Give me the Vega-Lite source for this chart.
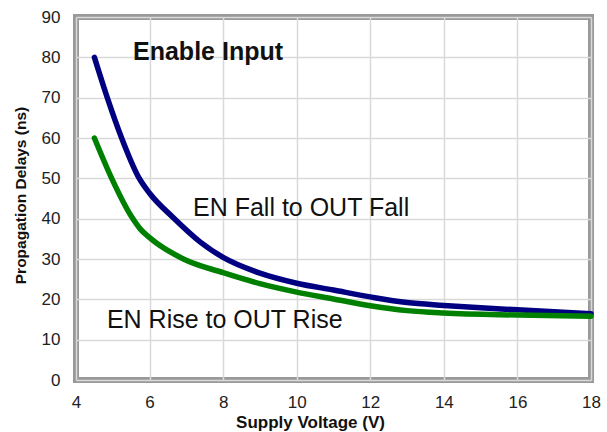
{
  "$schema": "https://vega.github.io/schema/vega-lite/v6.json",
  "autosize": "none",
  "width": 515,
  "height": 363,
  "padding": {"left": 76, "top": 17, "right": 16, "bottom": 52},
  "background": "white",
  "config": {
    "font": "Liberation Sans",
    "view": {"stroke": "#999999", "strokeWidth": 6},
    "axis": {
      "labelFont": "Liberation Sans",
      "titleFont": "Liberation Sans",
      "labelFontSize": 17,
      "labelColor": "#222222",
      "titleColor": "#111111",
      "titleFontWeight": "bold",
      "titleFontSize": 15,
      "tickSize": 0,
      "domain": false,
      "labelFlush": false,
      "gridColor": "#d9d9d9",
      "gridWidth": 1.5
    }
  },
  "datasets": {
    "curves": [
      {"v": 4.5, "d": 80, "s": "EN Fall to OUT Fall"},
      {"v": 4.85, "d": 70, "s": "EN Fall to OUT Fall"},
      {"v": 5.24, "d": 60, "s": "EN Fall to OUT Fall"},
      {"v": 5.7, "d": 50.3, "s": "EN Fall to OUT Fall"},
      {"v": 6, "d": 46.3, "s": "EN Fall to OUT Fall"},
      {"v": 6.64, "d": 40.3, "s": "EN Fall to OUT Fall"},
      {"v": 7.38, "d": 34.2, "s": "EN Fall to OUT Fall"},
      {"v": 8, "d": 30.4, "s": "EN Fall to OUT Fall"},
      {"v": 9, "d": 26.5, "s": "EN Fall to OUT Fall"},
      {"v": 10, "d": 24, "s": "EN Fall to OUT Fall"},
      {"v": 11, "d": 22.3, "s": "EN Fall to OUT Fall"},
      {"v": 12, "d": 20.6, "s": "EN Fall to OUT Fall"},
      {"v": 13, "d": 19.2, "s": "EN Fall to OUT Fall"},
      {"v": 14, "d": 18.5, "s": "EN Fall to OUT Fall"},
      {"v": 15, "d": 17.9, "s": "EN Fall to OUT Fall"},
      {"v": 16, "d": 17.4, "s": "EN Fall to OUT Fall"},
      {"v": 17, "d": 16.9, "s": "EN Fall to OUT Fall"},
      {"v": 18, "d": 16.4, "s": "EN Fall to OUT Fall"},
      {"v": 4.5, "d": 60, "s": "EN Rise to OUT Rise"},
      {"v": 4.97, "d": 50, "s": "EN Rise to OUT Rise"},
      {"v": 5.53, "d": 40.2, "s": "EN Rise to OUT Rise"},
      {"v": 5.75, "d": 37.4, "s": "EN Rise to OUT Rise"},
      {"v": 6, "d": 35.3, "s": "EN Rise to OUT Rise"},
      {"v": 6.92, "d": 30, "s": "EN Rise to OUT Rise"},
      {"v": 8, "d": 26.6, "s": "EN Rise to OUT Rise"},
      {"v": 9, "d": 23.9, "s": "EN Rise to OUT Rise"},
      {"v": 10, "d": 21.8, "s": "EN Rise to OUT Rise"},
      {"v": 11, "d": 20.1, "s": "EN Rise to OUT Rise"},
      {"v": 12, "d": 18.4, "s": "EN Rise to OUT Rise"},
      {"v": 13, "d": 17.2, "s": "EN Rise to OUT Rise"},
      {"v": 14, "d": 16.6, "s": "EN Rise to OUT Rise"},
      {"v": 16, "d": 16.1, "s": "EN Rise to OUT Rise"},
      {"v": 18, "d": 15.8, "s": "EN Rise to OUT Rise"}
    ],
    "titleLabel": [{"v": 5.55, "d": 81.4, "t": "Enable Input"}],
    "curveLabels": [
      {"v": 7.18, "d": 42.7, "t": "EN Fall to OUT Fall"},
      {"v": 4.84, "d": 14.9, "t": "EN Rise to OUT Rise"}
    ]
  },
  "layer": [
    {
      "data": {"name": "curves"},
      "mark": {"type": "line", "interpolate": "monotone", "strokeWidth": 5.5, "strokeCap": "round"},
      "encoding": {
        "x": {
          "field": "v", "type": "quantitative",
          "scale": {"domain": [4, 18], "nice": false, "zero": false},
          "axis": {"values": [4, 6, 8, 10, 12, 14, 16, 18], "title": "Supply Voltage (V)", "labelPadding": 14, "titlePadding": 4, "titleFontSize": 17, "titleX": 234, "titleAlign": "center"}
        },
        "y": {
          "field": "d", "type": "quantitative",
          "scale": {"domain": [0, 90], "nice": false},
          "axis": {"values": [0, 10, 20, 30, 40, 50, 60, 70, 80, 90], "title": "Propagation Delays (ns)", "labelPadding": 16, "titlePadding": 13, "titleFontSize": 15.5, "titleY": 178}
        },
        "color": {
          "field": "s", "type": "nominal",
          "scale": {"domain": ["EN Fall to OUT Fall", "EN Rise to OUT Rise"], "range": ["#000080", "#008000"]},
          "legend": null
        }
      }
    },
    {
      "data": {"name": "titleLabel"},
      "mark": {"type": "text", "align": "left", "baseline": "middle", "fontSize": 25, "fontWeight": "bold", "color": "#111111", "font": "Liberation Sans"},
      "encoding": {
        "x": {"field": "v", "type": "quantitative"},
        "y": {"field": "d", "type": "quantitative"},
        "text": {"field": "t"}
      }
    },
    {
      "data": {"name": "curveLabels"},
      "mark": {"type": "text", "align": "left", "baseline": "middle", "fontSize": 25, "color": "#111111", "font": "Liberation Sans"},
      "encoding": {
        "x": {"field": "v", "type": "quantitative"},
        "y": {"field": "d", "type": "quantitative"},
        "text": {"field": "t"}
      }
    }
  ]
}
